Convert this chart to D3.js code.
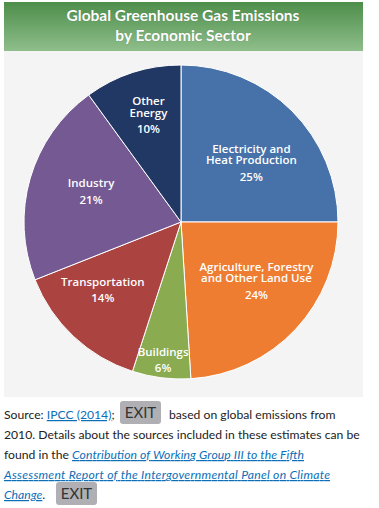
<!DOCTYPE html>
<html><head><meta charset="utf-8">
<script src="https://cdn.jsdelivr.net/npm/d3@7"></script>
<style>
html,body{margin:0;padding:0;background:#fff;}
svg{display:block;}
</style></head>
<body>
<script>
const titleLines = ["Global Greenhouse Gas Emissions", "by Economic Sector"];
const sectors = ["Electricity and Heat Production", "Agriculture, Forestry and Other Land Use", "Buildings", "Transportation", "Industry", "Other Energy"];
const labelLines = [["Electricity and", "Heat Production"], ["Agriculture, Forestry", "and Other Land Use"], ["Buildings"], ["Transportation"], ["Industry"], ["Other", "Energy"]];
const shares = [25, 24, 6, 14, 21, 10];
const colors = ["#4672a9", "#ee7d32", "#8aab50", "#ab4341", "#745993", "#213864"];

// label placement (layout): polar angle in degrees and radius fraction
const labelAngle = [50, 128, 187.4, 229, 288.7, 343];
const labelRadius = [0.585, 0.61, 0.885, 0.66, 0.605, 0.71];

const W = 379, H = 508;
const svg = d3.select("body").append("svg").attr("width", W).attr("height", H);

// title band
const defs = svg.append("defs");
const grad = defs.append("linearGradient").attr("id", "tg").attr("x1", 0).attr("y1", 0).attr("x2", 0).attr("y2", 1);
grad.append("stop").attr("offset", "0%").attr("stop-color", "#4d8e4a");
grad.append("stop").attr("offset", "100%").attr("stop-color", "#8fbe8b");
svg.append("rect").attr("x", 4).attr("y", 2).attr("width", 359).attr("height", 49).attr("fill", "url(#tg)");
svg.append("rect").attr("x", 4).attr("y", 51).attr("width", 359).attr("height", 346).attr("fill", "#f4f4f4");

svg.selectAll("text.title").data(titleLines).join("text")
  .attr("class", "title")
  .attr("x", 183).attr("y", (d, i) => 21 + i * 20)
  .attr("text-anchor", "middle")
  .attr("font-family", "Lato, 'Open Sans', sans-serif")
  .attr("font-weight", 700).attr("font-size", 15.5)
  .attr("fill", "#ffffff")
  .style("text-shadow", "0 0 1px rgba(0,0,0,0.25)")
  .text(d => d);

// pie
const cx = 181, cy = 222, R = 157;
const pie = d3.pie().sort(null).value(d => d)(shares);
const arc = d3.arc().innerRadius(0).outerRadius(R);
const g = svg.append("g").attr("transform", `translate(${cx},${cy})`);
g.selectAll("path").data(pie).join("path")
  .attr("d", arc)
  .attr("fill", (d, i) => colors[i])
  .attr("stroke", "#ffffff").attr("stroke-width", 1);

const lg = g.append("g")
  .attr("font-family", "'Open Sans', sans-serif")
  .attr("font-weight", 600).attr("font-size", 11.5)
  .attr("fill", "#ffffff").attr("text-anchor", "middle");
pie.forEach((p, i) => {
  const a = labelAngle[i] * Math.PI / 180;
  const r = R * labelRadius[i];
  const x = Math.sin(a) * r, y = -Math.cos(a) * r;
  const lines = labelLines[i].concat([shares[i] + "%"]);
  const n = lines.length;
  const total = (n - 2) * 11.5 + 16.5;
  let cur = y - total / 2 + 4;
  const t = lg.append("text");
  lines.forEach((ln, j) => {
    if (j > 0) cur += (j === n - 1) ? 16.5 : 11.5;
    t.append("tspan").attr("x", x).attr("y", cur).text(ln);
  });
});

// source text
const link = "#0b6fb8";
const ft = svg.append("g").attr("font-family", "Lato, sans-serif").attr("font-size", 13.5).attr("fill", "#222");
const probe = ft.append("text").attr("x", 4).attr("y", 439).text("2010. Details about the sources included in these estimates can be");
const fs = 13.5 * 356 / probe.node().getComputedTextLength();
ft.attr("font-size", fs);

function button(x, y) {
  svg.append("rect").attr("x", x).attr("y", y).attr("width", 41).attr("height", 23).attr("rx", 3).attr("fill", "#b0b0b4");
  svg.append("text").attr("x", x + 20.5).attr("y", y + 17).attr("text-anchor", "middle")
    .attr("font-family", "Lato, sans-serif").attr("font-size", 15).attr("fill", "#333").text("EXIT");
}
const l1 = ft.append("text").attr("x", 4).attr("y", 419);
l1.append("tspan").text("Source: ");
l1.append("tspan").attr("fill", link).attr("text-decoration", "underline").text("IPCC (2014)");
l1.append("tspan").text(";");
button(120, 401);
ft.append("text").attr("x", 169).attr("y", 419).text("based on global emissions from");
const l3 = ft.append("text").attr("x", 4).attr("y", 459);
l3.append("tspan").text("found in the ");
ft.append("text").attr("x", 72).attr("y", 459).attr("fill", link).attr("font-style", "italic").attr("text-decoration", "underline")
  .attr("textLength", 232).attr("lengthAdjust", "spacing")
  .text("Contribution of Working Group III to the Fifth");
ft.append("text").attr("x", 4).attr("y", 479).attr("fill", link).attr("font-style", "italic").attr("text-decoration", "underline")
  .attr("textLength", 326).attr("lengthAdjust", "spacing")
  .text("Assessment Report of the Intergovernmental Panel on Climate");
const l5 = ft.append("text").attr("x", 4).attr("y", 499);
l5.append("tspan").attr("fill", link).attr("font-style", "italic").attr("text-decoration", "underline").text("Change");
l5.append("tspan").text(".");
button(56, 482);
</script>
</body></html>
